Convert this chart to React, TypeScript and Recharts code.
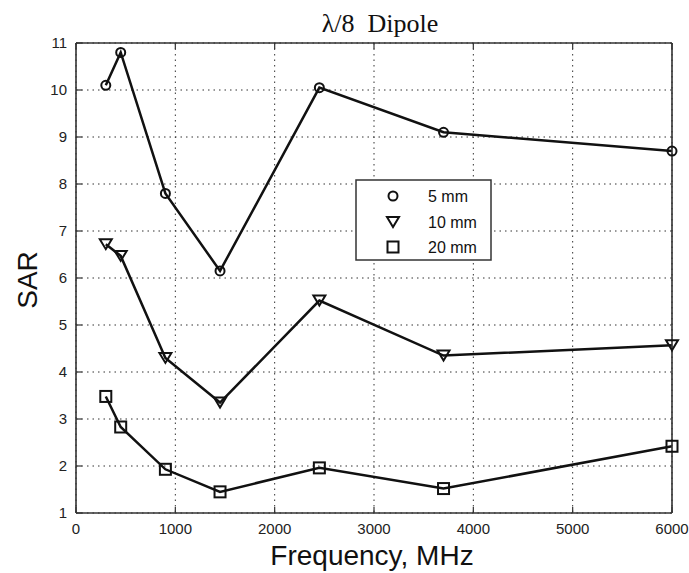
import React from 'react';
import { LineChart, Line, XAxis, YAxis, CartesianGrid } from 'recharts';

const frequencies = [300, 450, 900, 1450, 2450, 3700, 6000];
const sar5mm = [10.1, 10.8, 7.8, 6.15, 10.05, 9.1, 8.7];
const sar10mm = [6.72, 6.47, 4.3, 3.35, 5.52, 4.35, 4.57];
const sar20mm = [3.48, 2.83, 1.93, 1.45, 1.96, 1.52, 2.42];
const xTicks = [0, 1000, 2000, 3000, 4000, 5000, 6000];
const yTicks = [1, 2, 3, 4, 5, 6, 7, 8, 9, 10, 11];
const seriesNames = ['5 mm', '10 mm', '20 mm'];
const titleText = 'λ/8  Dipole';
const xLabelText = 'Frequency, MHz';
const yLabelText = 'SAR';

const data = frequencies.map((f, i) => ({
  freq: f,
  s5: sar5mm[i],
  s10: sar10mm[i],
  s20: sar20mm[i],
}));

const INK = '#111';
const AXIS = '#333';
const TICK_FONT = 'Liberation Sans, Arial, sans-serif';

const CircleMark = ({ cx, cy }: any) => (
  <circle cx={cx} cy={cy} r={4.5} fill="none" stroke={INK} strokeWidth={2} />
);
const TriMark = ({ cx, cy }: any) => (
  <path
    d={`M${cx - 6},${cy - 5} L${cx + 6},${cy - 5} L${cx},${cy + 5} Z`}
    fill="none"
    stroke={INK}
    strokeWidth={2}
  />
);
const SquareMark = ({ cx, cy }: any) => (
  <rect x={cx - 5.5} y={cy - 5.5} width={11} height={11} fill="none" stroke={INK} strokeWidth={2} />
);

const dotCircle = (p: any) => <CircleMark key={`c${p.index}`} cx={p.cx} cy={p.cy} />;
const dotTri = (p: any) => <TriMark key={`t${p.index}`} cx={p.cx} cy={p.cy} />;
const dotSquare = (p: any) => <SquareMark key={`s${p.index}`} cx={p.cx} cy={p.cy} />;

const BottomTick = (props: any) => {
  const { x, y, payload } = props;
  return (
    <g>
      <line x1={x} x2={x} y1={y - 10} y2={y - 16} stroke={AXIS} strokeWidth={1.2} />
      <text x={x} y={y} dy="0.71em" textAnchor="middle" fontSize={15} fontFamily={TICK_FONT} fill="#222">
        {payload.value}
      </text>
    </g>
  );
};

const LeftTick = (props: any) => {
  const { x, y, payload } = props;
  return (
    <g>
      <line x1={x + 9} x2={x + 15} y1={y} y2={y} stroke={AXIS} strokeWidth={1.2} />
      <text x={x} y={y} dy="0.355em" textAnchor="end" fontSize={15} fontFamily={TICK_FONT} fill="#222">
        {payload.value}
      </text>
    </g>
  );
};

const TopTick = (props: any) => {
  const { x, y } = props;
  return <line x1={x} x2={x} y1={y} y2={y + 6} stroke={AXIS} strokeWidth={1.2} />;
};

const RightTick = (props: any) => {
  const { x, y } = props;
  return <line x1={x} x2={x - 6} y1={y} y2={y} stroke={AXIS} strokeWidth={1.2} />;
};

export default function App() {
  return (
    <div style={{ position: 'absolute', left: 0, top: 0, width: 689, height: 573, background: '#fff' }}>
      <LineChart
        width={689}
        height={573}
        data={data}
        margin={{ top: 42, right: 16, bottom: 0, left: 16 }}
      >
        <CartesianGrid
          xAxisId="b"
          yAxisId="l"
          stroke="#333"
          strokeWidth={1}
          strokeDasharray="1.5 4"
        />
        <XAxis
          xAxisId="b"
          dataKey="freq"
          type="number"
          domain={[0, 6000]}
          ticks={xTicks}
          height={60}
          tickSize={0}
          tickMargin={10}
          tick={<BottomTick />}
          axisLine={{ stroke: AXIS, strokeWidth: 1.6 }}
          interval={0}
        />
        <XAxis
          xAxisId="t"
          orientation="top"
          dataKey="freq"
          type="number"
          domain={[0, 6000]}
          ticks={xTicks}
          height={1}
          tickSize={0}
          tickMargin={0}
          tick={<TopTick />}
          axisLine={{ stroke: AXIS, strokeWidth: 1.6 }}
          interval={0}
        />
        <YAxis
          yAxisId="l"
          type="number"
          domain={[1, 11]}
          ticks={yTicks}
          width={60}
          tickSize={0}
          tickMargin={9}
          tick={<LeftTick />}
          axisLine={{ stroke: AXIS, strokeWidth: 1.6 }}
          interval={0}
        />
        <YAxis
          yAxisId="r"
          orientation="right"
          type="number"
          domain={[1, 11]}
          ticks={yTicks}
          width={1}
          tickSize={0}
          tickMargin={0}
          tick={<RightTick />}
          axisLine={{ stroke: AXIS, strokeWidth: 1.6 }}
          interval={0}
        />
        <Line
          xAxisId="b"
          yAxisId="l"
          type="linear"
          dataKey="s5"
          name={seriesNames[0]}
          stroke={INK}
          strokeWidth={2.5}
          dot={dotCircle}
          isAnimationActive={false}
        />
        <Line
          xAxisId="b"
          yAxisId="l"
          type="linear"
          dataKey="s10"
          name={seriesNames[1]}
          stroke={INK}
          strokeWidth={2.5}
          dot={dotTri}
          isAnimationActive={false}
        />
        <Line
          xAxisId="b"
          yAxisId="l"
          type="linear"
          dataKey="s20"
          name={seriesNames[2]}
          stroke={INK}
          strokeWidth={2.5}
          dot={dotSquare}
          isAnimationActive={false}
        />
      </LineChart>
      <svg
        width={689}
        height={573}
        style={{ position: 'absolute', left: 0, top: 0, pointerEvents: 'none' }}
      >
        <text
          x={380}
          y={32}
          textAnchor="middle"
          fontSize={26}
          fontFamily="Liberation Serif, Times New Roman, serif"
          fill="#111"
          style={{ whiteSpace: 'pre' }}
        >
          {titleText}
        </text>
        <text
          x={372}
          y={565}
          textAnchor="middle"
          fontSize={28}
          fontFamily={TICK_FONT}
          fill="#111"
        >
          {xLabelText}
        </text>
        <text
          x={37}
          y={280}
          textAnchor="middle"
          fontSize={28}
          fontFamily={TICK_FONT}
          fill="#111"
          transform="rotate(-90 37 280)"
        >
          {yLabelText}
        </text>
        <g>
          <rect x={356} y={180} width={135} height={80} fill="#fff" stroke={AXIS} strokeWidth={1.5} />
          <CircleMark cx={393} cy={196} />
          <TriMark cx={393} cy={222} />
          <SquareMark cx={393} cy={247} />
          {seriesNames.map((n, i) => (
            <text
              key={n}
              x={428}
              y={[196, 222, 247][i] + 6}
              fontSize={16}
              fontFamily={TICK_FONT}
              fill="#111"
            >
              {n}
            </text>
          ))}
        </g>
      </svg>
    </div>
  );
}
